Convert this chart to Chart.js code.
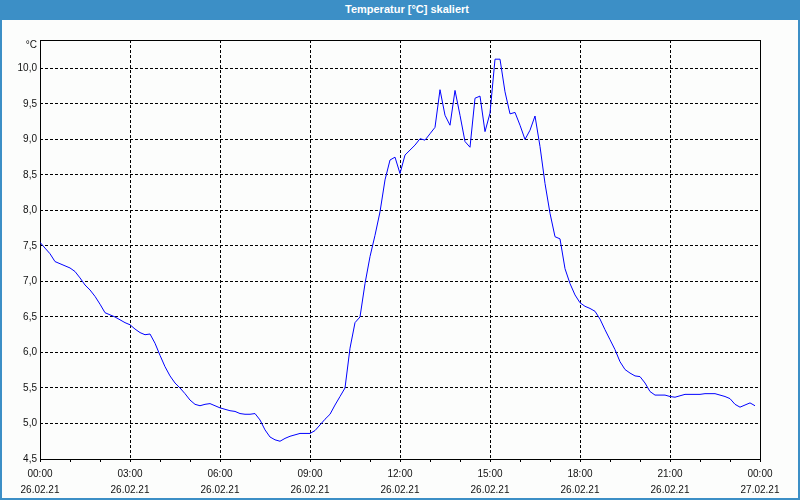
<!DOCTYPE html>
<html>
<head>
<meta charset="utf-8">
<script src="https://cdn.jsdelivr.net/npm/chart.js@4/dist/chart.umd.min.js"></script>
<style>
  html, body { margin: 0; padding: 0; background: #fcfdfc; }
  #frame {
    position: relative; width: 800px; height: 500px; box-sizing: border-box;
    background: #fcfdfc; border: 2px solid #3c8fc6; border-top: none; overflow: hidden;
  }
  #title {
    position: absolute; left: -2px; top: 0; width: 800px; height: 20px;
    background: #3c8fc6; color: #fff; text-align: center;
    font: bold 11px 'Liberation Sans', Arial, sans-serif; line-height: 19px;
    padding-left: 14px; box-sizing: border-box;
  }
  #chart { position: absolute; left: -2px; top: 20px; }
</style>
</head>
<body>
<div id="frame">
  <div id="title">Temperatur [°C] skaliert</div>
  <canvas id="chart" width="800" height="480"></canvas>
</div>
<script>
/* Temperature over one day, 10-minute readings. */

const times = [
  '00:00','00:10','00:20','00:30','00:40','00:50','01:00','01:10','01:20','01:30','01:40','01:50',
  '02:00','02:10','02:20','02:30','02:40','02:50','03:00','03:10','03:20','03:30','03:40','03:50',
  '04:00','04:10','04:20','04:30','04:40','04:50','05:00','05:10','05:20','05:30','05:40','05:50',
  '06:00','06:10','06:20','06:30','06:40','06:50','07:00','07:10','07:20','07:30','07:40','07:50',
  '08:00','08:10','08:20','08:30','08:40','08:50','09:00','09:10','09:20','09:30','09:40','09:50',
  '10:00','10:10','10:20','10:30','10:40','10:50','11:00','11:10','11:20','11:30','11:40','11:50',
  '12:00','12:10','12:20','12:30','12:40','12:50','13:00','13:10','13:20','13:30','13:40','13:50',
  '14:00','14:10','14:20','14:30','14:40','14:50','15:00','15:10','15:20','15:30','15:40','15:50',
  '16:00','16:10','16:20','16:30','16:40','16:50','17:00','17:10','17:20','17:30','17:40','17:50',
  '18:00','18:10','18:20','18:30','18:40','18:50','19:00','19:10','19:20','19:30','19:40','19:50',
  '20:00','20:10','20:20','20:30','20:40','20:50','21:00','21:10','21:20','21:30','21:40','21:50',
  '22:00','22:10','22:20','22:30','22:40','22:50','23:00','23:10','23:20','23:30','23:40','23:50'
];

const temps = [
  7.55, 7.47, 7.39, 7.28, 7.25, 7.22, 7.19, 7.14, 7.05, 6.95, 6.88, 6.79,
  6.68, 6.56, 6.53, 6.50, 6.46, 6.42, 6.39, 6.33, 6.28, 6.25, 6.26, 6.13,
  5.96, 5.80, 5.67, 5.57, 5.50, 5.42, 5.33, 5.27, 5.25, 5.27, 5.28, 5.25,
  5.22, 5.20, 5.18, 5.17, 5.14, 5.13, 5.13, 5.14, 5.05, 4.91, 4.81, 4.77,
  4.75, 4.79, 4.82, 4.84, 4.86, 4.86, 4.86, 4.90, 4.98, 5.06, 5.13, 5.26,
  5.38, 5.50, 6.06, 6.42, 6.50, 6.97, 7.35, 7.65, 7.98, 8.43, 8.71, 8.75,
  8.52, 8.78, 8.85, 8.92, 9.01, 8.99, 9.08, 9.17, 9.70, 9.34, 9.20, 9.69,
  9.34, 8.97, 8.89, 9.58, 9.61, 9.11, 9.37, 10.13, 10.13, 9.67, 9.36, 9.38,
  9.20, 9.00, 9.13, 9.33, 8.90, 8.38, 7.96, 7.63, 7.60, 7.18, 6.97, 6.81,
  6.70, 6.65, 6.62, 6.58, 6.47, 6.32, 6.18, 6.04, 5.87, 5.76, 5.71, 5.67,
  5.66, 5.57, 5.45, 5.40, 5.40, 5.40, 5.38, 5.37, 5.39, 5.41, 5.41, 5.41,
  5.41, 5.42, 5.42, 5.42, 5.40, 5.38, 5.35, 5.27, 5.23, 5.26, 5.29, 5.25
];

// x tick labels every 3 hours (two lines: time, date)
const xTickTimes = ['00:00','03:00','06:00','09:00','12:00','15:00','18:00','21:00','00:00'];
const xTickDates = ['26.02.21','26.02.21','26.02.21','26.02.21','26.02.21','26.02.21','26.02.21','26.02.21','27.02.21'];

// y ticks; the last one only carries the unit label
const yTicks = [4.5, 5.0, 5.5, 6.0, 6.5, 7.0, 7.5, 8.0, 8.5, 9.0, 9.5, 10.0];
const yUnitPos = 10.32;
const yUnit = '°C';

const Y_MIN = 4.5, Y_MAX = 10.4;
const FONT = "'Liberation Sans', Arial, sans-serif";

function toHours(t) {
  const [h, m] = t.split(':').map(Number);
  return h + m / 60;
}

const points = times.map((t, i) => ({ x: toHours(t), y: temps[i] }));

// solid black frame round the plot area
const framePlugin = {
  id: 'frame',
  beforeDatasetsDraw(chart) {
    const { ctx, chartArea: a } = chart;
    ctx.save();
    ctx.strokeStyle = '#000';
    ctx.lineWidth = 1;
    ctx.setLineDash([]);
    const l = Math.round(a.left) + 0.5, r = Math.round(a.right) + 0.5;
    const t = Math.round(a.top) + 0.5, b = Math.round(a.bottom) + 0.5;
    ctx.strokeRect(l, t, r - l, b - t);
    ctx.restore();
  }
};

new Chart(document.getElementById('chart'), {
  type: 'line',
  data: {
    datasets: [{
      data: points,
      borderColor: '#0000ff',
      borderWidth: 1,
      pointRadius: 0,
      tension: 0,
      fill: false,
    }]
  },
  options: {
    responsive: false,
    animation: false,
    events: [],
    layout: { padding: { top: 20, right: 40, left: 0, bottom: 0 } },
    plugins: { legend: { display: false }, tooltip: { enabled: false } },
    scales: {
      x: {
        type: 'linear',
        min: 0, max: 24,
        afterFit(scale) { scale.height = 41; },
        border: { display: false, dash: [3, 2] },
        grid: {
          color: (c) => (c.tick && c.tick.value % 3 === 0 ? '#000' : 'rgba(0,0,0,0)'),
          tickColor: '#000',
          tickLength: 3,
          lineWidth: 1,
        },
        ticks: {
          stepSize: 1,
          autoSkip: false,
          maxRotation: 0,
          padding: 4,
          color: '#111',
          font: { family: FONT, size: 10, lineHeight: 1.6 },
          callback: (v) => (v % 3 === 0 ? [xTickTimes[v / 3], xTickDates[v / 3]] : ''),
        },
      },
      y: {
        min: Y_MIN, max: Y_MAX,
        afterFit(scale) { scale.width = 40; },
        afterBuildTicks(scale) {
          scale.ticks = yTicks.concat([yUnitPos]).map((v) => ({ value: v }));
        },
        border: { display: false, dash: [3, 2] },
        grid: {
          drawTicks: false,
          color: (c) => (c.tick && c.tick.value === yUnitPos ? 'rgba(0,0,0,0)' : '#000'),
          lineWidth: 1,
        },
        ticks: {
          padding: 3,
          color: '#111',
          font: { family: FONT, size: 10 },
          callback: (v) => (v === yUnitPos ? yUnit : v.toFixed(1).replace('.', ',')),
        },
      },
    },
  },
  plugins: [framePlugin],
});
</script>
</body>
</html>
